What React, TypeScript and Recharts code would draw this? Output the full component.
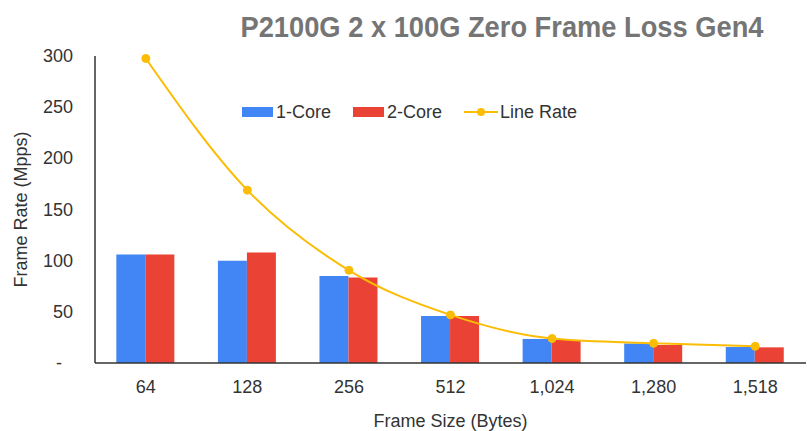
import {
  ComposedChart,
  Bar,
  Line,
  XAxis,
  YAxis,
} from "recharts";

const FRAME_SIZES = ["64", "128", "256", "512", "1,024", "1,280", "1,518"];
const ONE_CORE = [106, 100, 85, 46, 23.5, 19, 15.6];
const TWO_CORE = [106, 108, 83.5, 46, 22.5, 17.6, 15.3];
const LINE_RATE = [297.6, 168.9, 90.6, 47, 23.9, 19.2, 16.3];
const Y_TICKS = [0, 50, 100, 150, 200, 250, 300];

const COLORS = {
  one: "#4285F4",
  two: "#EA4335",
  line: "#FBBC04",
} as const;

const FONT = "'Liberation Sans', Arial, sans-serif";

const data = FRAME_SIZES.map((size, i) => ({
  size,
  oneCore: ONE_CORE[i],
  twoCore: TWO_CORE[i],
  lineRate: LINE_RATE[i],
}));

// y tick: 0 shows as "-" (accounting style), slightly left
// eslint-disable-next-line @typescript-eslint/no-explicit-any
const YTick = (props: any) => {
  const { x, y, payload } = props;
  const isZero = payload.value === 0;
  return (
    <text
      x={isZero ? x - 11 : x}
      y={y}
      dy={6}
      textAnchor="end"
      fill="#333"
      fontSize={18}
      fontFamily={FONT}
    >
      {isZero ? "-" : payload.value}
    </text>
  );
};

const LEGEND_ITEMS = [
  { label: "1-Core", color: COLORS.one, type: "rect" },
  { label: "2-Core", color: COLORS.two, type: "rect" },
  { label: "Line Rate", color: COLORS.line, type: "line" },
];

const ChartLegend = () => (
  <div
    style={{
      position: "absolute",
      left: 242,
      top: 102,
      display: "flex",
      alignItems: "center",
      fontFamily: FONT,
    }}
  >
    {LEGEND_ITEMS.map((item) => (
      <div
        key={item.label}
        style={{ display: "flex", alignItems: "center", marginRight: 22 }}
      >
        {item.type === "rect" ? (
          <div
            style={{
              width: 31,
              height: 10,
              backgroundColor: item.color,
              marginRight: 3,
            }}
          />
        ) : (
          <svg width={34} height={12} style={{ marginRight: 2 }}>
            <line
              x1={0}
              y1={6}
              x2={34}
              y2={6}
              stroke={item.color}
              strokeWidth={2}
            />
            <circle cx={17} cy={6} r={4} fill={item.color} />
          </svg>
        )}
        <span style={{ fontSize: 18, color: "#333", lineHeight: "20px" }}>
          {item.label}
        </span>
      </div>
    ))}
  </div>
);

export default function App() {
  return (
    <div
      style={{
        position: "absolute",
        left: 0,
        top: 0,
        width: 807,
        height: 431,
        background: "#fff",
      }}
    >
      <ComposedChart
        width={807}
        height={431}
        data={data}
        margin={{ top: 56, right: 1, bottom: 0, left: 0 }}
        barCategoryGap="21%"
        barGap={0}
      >
        <XAxis
          dataKey="size"
          height={68}
          tickLine={false}
          tickSize={0}
          tickMargin={17}
          axisLine={{ stroke: "#333", strokeWidth: 1.5 }}
          tick={{ fill: "#333", fontSize: 18, fontFamily: FONT }}
          label={{
            value: "Frame Size (Bytes)",
            position: "insideBottom",
            offset: 4,
            fill: "#333",
            fontSize: 18,
            fontFamily: FONT,
          }}
        />
        <YAxis
          width={95}
          domain={[0, 300]}
          ticks={Y_TICKS}
          interval={0}
          tickLine={false}
          tickSize={0}
          tickMargin={22}
          axisLine={{ stroke: "#333", strokeWidth: 1.5 }}
          tick={YTick}
          label={{
            value: "Frame Rate (Mpps)",
            angle: -90,
            position: "insideLeft",
            dx: 16,
            style: { textAnchor: "middle" },
            fill: "#333",
            fontSize: 18,
            fontFamily: FONT,
          }}
        />
        <Bar
          dataKey="oneCore"
          name="1-Core"
          fill={COLORS.one}
          isAnimationActive={false}
        />
        <Bar
          dataKey="twoCore"
          name="2-Core"
          fill={COLORS.two}
          isAnimationActive={false}
        />
        <Line
          dataKey="lineRate"
          name="Line Rate"
          type="monotone"
          stroke={COLORS.line}
          strokeWidth={2}
          dot={{ r: 4, fill: COLORS.line, stroke: COLORS.line, strokeWidth: 1 }}
          isAnimationActive={false}
        />
      </ComposedChart>

      <ChartLegend />

      {/* Title */}
      <svg
        width={807}
        height={50}
        style={{ position: "absolute", left: 0, top: 0, pointerEvents: "none" }}
      >
        <text
          x={502}
          y={37}
          textAnchor="middle"
          textLength={523}
          lengthAdjust="spacingAndGlyphs"
          fontSize={29}
          fontWeight="bold"
          fill="#757575"
          fontFamily={FONT}
        >
          P2100G 2 x 100G Zero Frame Loss Gen4
        </text>
      </svg>
    </div>
  );
}
